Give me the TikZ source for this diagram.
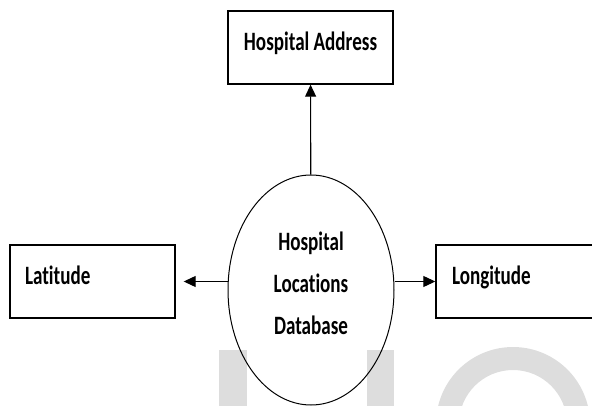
\documentclass[tikz,border=0pt]{standalone}
\usepackage{fontspec}
\setmainfont[FakeStretch=0.72, Ligatures=NoCommon]{Carlito}
\usetikzlibrary{arrows.meta,shapes.geometric}
\definecolor{wmark}{RGB}{221,221,221}

\begin{document}
\begin{tikzpicture}[x=1pt,y=-1pt,
  box/.style={draw, line width=1.4pt, rectangle, minimum width=165pt, minimum height=73pt,
    inner sep=0pt, text height=18pt, text depth=12pt, font=\fontsize{26.5}{42}\selectfont\bfseries},
  flow/.style={-{Triangle[length=12pt,width=11pt]}, line width=1.1pt}]
\useasboundingbox (0,0) rectangle (592,406);
\clip (0,0) rectangle (592,406);

% faint letters behind the diagram
\fill[wmark] (219,350) rectangle (247,406);
\fill[wmark] (367,350) rectangle (394,406);
\fill[wmark, even odd rule] (513,424) circle (77pt) (513,424) circle (54pt);

\node[box] (addr) at (310.5,47.5) {Hospital Address};
\node[box, text width=135pt, align=left] (lat) at (92.5,281.5) {Latitude};
\node[box, text width=133pt, align=left] (lon) at (518.5,281.5) {Longitude};
\node[draw, ellipse, line width=1pt, minimum width=166pt, minimum height=230pt, inner sep=0pt,
  align=center, text depth=14pt, font=\fontsize{26.5}{42}\selectfont\bfseries] (db) at (311,290)
  {Hospital\\Locations\\Database};

\draw[flow] (db) -- (addr);
\draw[flow, shorten >=8pt] (db.west |- lat) -- (lat.east);
\draw[flow] (db.east |- lon) -- (lon.west);
\end{tikzpicture}
\end{document}
